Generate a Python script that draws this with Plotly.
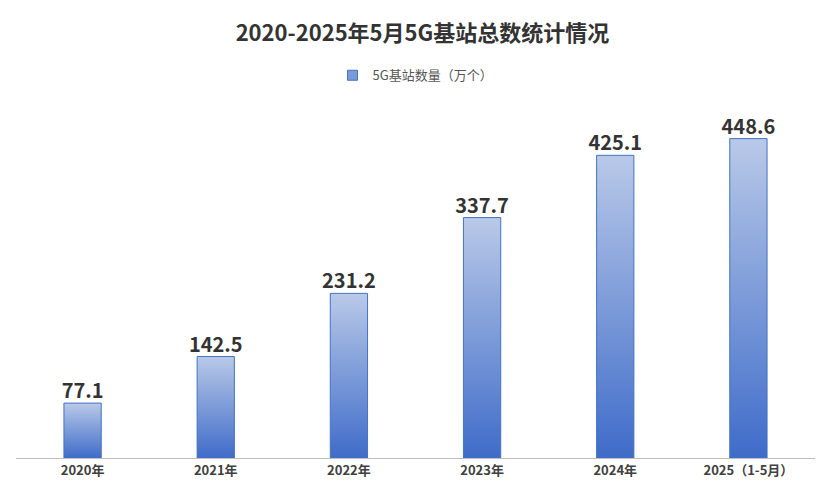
import plotly.graph_objects as go

categories = ["2020年", "2021年", "2022年", "2023年", "2024年", "2025（1-5月）"]
values = [77.1, 142.5, 231.2, 337.7, 425.1, 448.6]
series_name = "5G基站数量（万个）"

fig = go.Figure()
hw = 0.14
for i, v in enumerate(values):
    fig.add_trace(go.Scatter(
        x=[i - hw, i + hw, i + hw, i - hw, i - hw], y=[0, 0, v, v, 0],
        fill="toself", mode="lines",
        line=dict(color="#4472c4", width=1),
        fillgradient=dict(type="vertical", colorscale=[[0, "#3f6cc9"], [1, "#b9c9e8"]]),
        name=series_name, showlegend=False, hoverinfo="skip"))
fig.add_trace(go.Scatter(
    x=[None], y=[None], mode="markers", name=series_name,
    marker=dict(symbol="square", size=10, color="#7b9bd8", line=dict(color="#4472c4", width=1))))
fig.add_trace(go.Scatter(
    x=list(range(len(values))), y=values, mode="text",
    text=[f"<b>{v:.1f}</b>" for v in values], textposition="top center",
    textfont=dict(size=20, color="#333333", family="Noto Sans CJK SC"),
    showlegend=False, hoverinfo="skip"))

fig.update_layout(
    width=829, height=500, plot_bgcolor="white", paper_bgcolor="white",
    margin=dict(l=8, r=22, t=94, b=50),
    font=dict(family="Noto Sans CJK SC", color="#404040"),
    title=dict(text="<b>2020-2025年5月5G基站总数统计情况</b>", x=0.5, y=0.965,
               xanchor="center", font=dict(size=22, color="#333333")),
    legend=dict(orientation="h", x=0.5, y=1.075, xanchor="center", yanchor="middle",
                font=dict(size=13, color="#555555")),
    xaxis=dict(range=[-0.5, 5.5], tickvals=list(range(len(categories))),
               ticktext=[f"<b>{c}</b>" for c in categories], showgrid=False,
               showline=True, linecolor="#bfbfbf", zeroline=False,
               tickfont=dict(size=13, color="#404040")),
    yaxis=dict(range=[0, 500], visible=False),
)
fig.write_html("out.html")
